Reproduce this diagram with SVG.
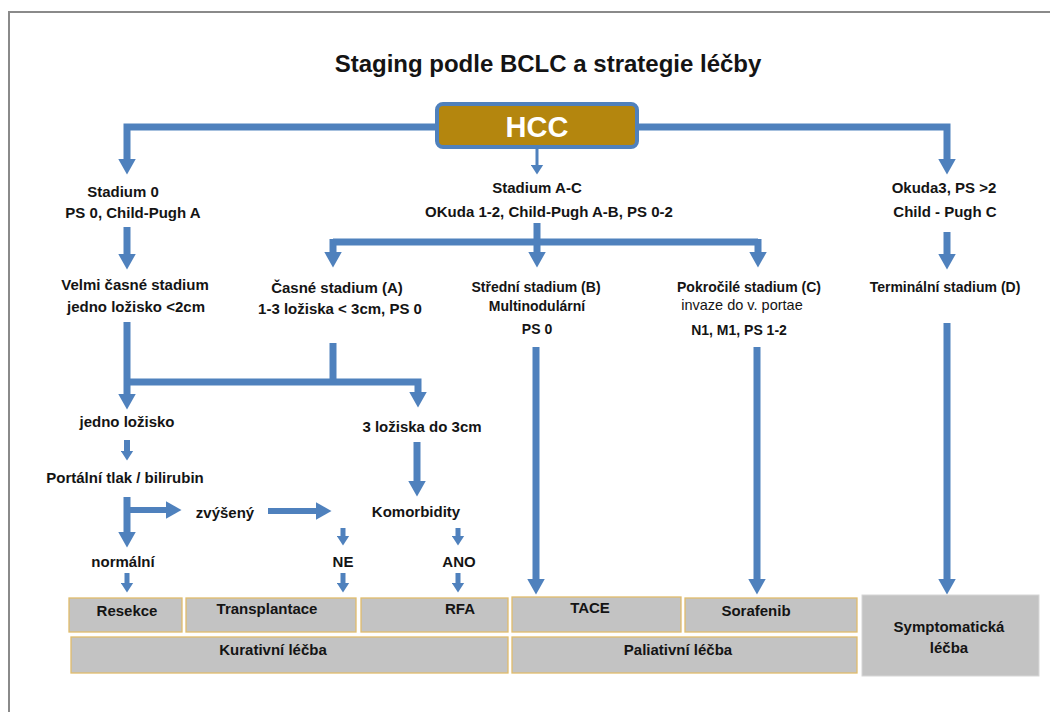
<svg xmlns="http://www.w3.org/2000/svg" width="1050" height="712" viewBox="0 0 1050 712">
<style>
text{font-family:"Liberation Sans",Arial,sans-serif;font-weight:bold;font-size:15px;fill:#141414;text-anchor:middle}
.sm{font-size:14px}
.rg{font-weight:normal;font-size:14.5px}
.ttl{font-size:24px}
.hcc{font-size:29px;fill:#ffffff}
.c{fill:none;stroke:#4F81BD;stroke-width:7;stroke-linejoin:miter}
.c6{stroke-width:6}
.c5{stroke-width:5}
.c3{stroke-width:3}
.bx{fill:#C3C3C3;stroke:#E0BC6C;stroke-width:1.3}
.bx2{fill:#C3C3C3;stroke:#D6D6D6;stroke-width:1}
</style>
<defs>
<marker id="ah" markerUnits="userSpaceOnUse" viewBox="0 0 16 18" markerWidth="16" markerHeight="18" refX="0.5" refY="9" orient="auto">
<path d="M0,0 L16,9 L0,18 Z" fill="#4F81BD"/>
</marker>
<marker id="as" markerUnits="userSpaceOnUse" viewBox="0 0 10 13" markerWidth="10" markerHeight="13" refX="0.5" refY="6.5" orient="auto">
<path d="M0,0 L10,6.5 L0,13 Z" fill="#4F81BD"/>
</marker>
</defs>
<rect width="1050" height="712" fill="#ffffff"/>
<path d="M9,712 V12 H1050" fill="none" stroke="#8a8a8a" stroke-width="2"/>
<text class="ttl" x="548" y="72">Staging podle BCLC a strategie léčby</text>

<g id="connectors">
<path class="c" d="M437,127 H127 V159" marker-end="url(#ah)"/>
<path class="c" d="M638,127 H947 V159" marker-end="url(#ah)"/>
<path class="c c3" d="M537,148 V165" marker-end="url(#as)"/>
<path class="c" d="M127,227 V254" marker-end="url(#ah)"/>
<path class="c" d="M947,232 V254" marker-end="url(#ah)"/>
<path class="c" d="M537,223 V252" marker-end="url(#ah)"/>
<path class="c" d="M333,242 H758"/>
<path class="c" d="M333,239 V252" marker-end="url(#ah)"/>
<path class="c" d="M758,239 V252" marker-end="url(#ah)"/>
<path class="c" d="M127,322 V394" marker-end="url(#ah)"/>
<path class="c" d="M124,382 H418 V392" marker-end="url(#ah)"/>
<path class="c" d="M333,343 V382"/>
<path class="c c6" d="M127,440 V451" marker-end="url(#as)"/>
<path class="c" d="M127,497 V532" marker-end="url(#ah)"/>
<path class="c c6" d="M127,510 H166" marker-end="url(#ah)"/>
<path class="c c6" d="M268,511 H316" marker-end="url(#ah)"/>
<path class="c c5" d="M343,528 V536" marker-end="url(#as)"/>
<path class="c c5" d="M343,573 V583" marker-end="url(#as)"/>
<path class="c" d="M417,442 V481" marker-end="url(#ah)"/>
<path class="c c5" d="M458,528 V536" marker-end="url(#as)"/>
<path class="c c5" d="M458,573 V583" marker-end="url(#as)"/>
<path class="c c5" d="M127,573 V583" marker-end="url(#as)"/>
<path class="c" d="M536,347 V579" marker-end="url(#ah)"/>
<path class="c" d="M757,347 V579" marker-end="url(#ah)"/>
<path class="c" d="M947,323 V579" marker-end="url(#ah)"/>
</g>

<g id="hcc">
<rect x="437" y="104" width="200" height="43" rx="6" fill="#B4860E" stroke="#4F81BD" stroke-width="4"/>
<text class="hcc" x="537" y="137">HCC</text>
</g>

<g id="stadium0">
<text x="123" y="197">Stadium 0</text>
<text x="133" y="218">PS 0, Child-Pugh A</text>
</g>
<g id="stadiumAC">
<text x="537" y="193">Stadium A-C</text>
<text x="549" y="217">OKuda 1-2, Child-Pugh A-B, PS 0-2</text>
</g>
<g id="okuda3">
<text x="944" y="193">Okuda3, PS &gt;2</text>
<text x="945" y="217">Child - Pugh C</text>
</g>
<g id="velmi">
<text x="135" y="290">Velmi časné stadium</text>
<text x="136" y="312">jedno ložisko &lt;2cm</text>
</g>
<g id="casne">
<text x="337" y="293">Časné stadium (A)</text>
<text x="340" y="314">1-3 ložiska &lt; 3cm, PS 0</text>
</g>
<g id="stredni">
<text class="sm" x="536" y="292">Střední stadium (B)</text>
<text class="sm" x="537" y="311">Multinodulární</text>
<text class="sm" x="537" y="334">PS 0</text>
</g>
<g id="pokrocile">
<text class="sm" x="749" y="292">Pokročilé stadium (C)</text>
<text class="rg" x="742" y="310">invaze do v. portae</text>
<text class="sm" x="739" y="335">N1, M1, PS 1-2</text>
</g>
<g id="terminalni">
<text class="sm" x="945" y="292">Terminální stadium (D)</text>
</g>
<g id="jedno"><text x="127" y="427">jedno ložisko</text></g>
<g id="tri"><text x="422" y="432">3 ložiska do 3cm</text></g>
<g id="portalni"><text x="125" y="483">Portální tlak / bilirubin</text></g>
<g id="zvyseny"><text x="225" y="518">zvýšený</text></g>
<g id="komorbidity"><text x="416" y="517">Komorbidity</text></g>
<g id="normalni"><text x="123" y="567">normální</text></g>
<g id="ne"><text x="343" y="567">NE</text></g>
<g id="ano"><text x="459" y="567">ANO</text></g>

<g id="resekce"><rect class="bx" x="69" y="598" width="113" height="34"/><text x="127" y="616">Resekce</text></g>
<g id="transplantace"><rect class="bx" x="186" y="598" width="170" height="34"/><text x="267" y="614">Transplantace</text></g>
<g id="rfa"><rect class="bx" x="361" y="598" width="147" height="34"/><text x="460" y="614">RFA</text></g>
<g id="tace"><rect class="bx" x="512" y="597" width="169" height="35"/><text x="590" y="613">TACE</text></g>
<g id="sorafenib"><rect class="bx" x="685" y="598" width="172" height="34"/><text x="756" y="616">Sorafenib</text></g>
<g id="kurativni"><rect class="bx" x="71" y="637" width="437" height="36"/><text x="273" y="655">Kurativní léčba</text></g>
<g id="paliativni"><rect class="bx" x="512" y="637" width="345" height="36"/><text x="678" y="655">Paliativní léčba</text></g>
<g id="symptomaticka"><rect class="bx2" x="862" y="595" width="177" height="81"/><text x="949" y="632">Symptomatická</text><text x="949" y="653">léčba</text></g>
</svg>
